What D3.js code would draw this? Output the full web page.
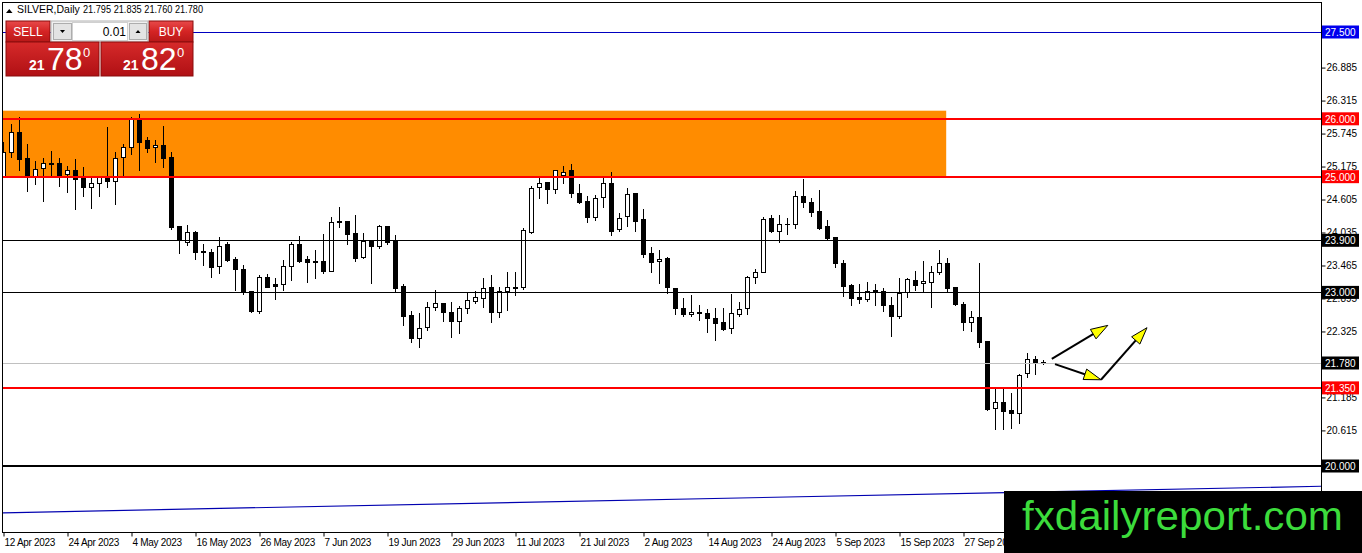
<!DOCTYPE html>
<html>
<head>
<meta charset="utf-8">
<script src="https://cdn.jsdelivr.net/npm/d3@7"></script>
<style>
  body { margin: 0; background: #fff; }
  svg { display: block; }
  text { font-family: Tahoma, "Liberation Sans", Arial, sans-serif; }
</style>
</head>
<body>
<svg id="chart"></svg>
<script>
// ---- data ----
const symbolName = "SILVER,Daily";
const lastQuote = [21.795, 21.835, 21.760, 21.780];

const opens = [24.99,25.43,25.77,25.32,24.99,25.15,25.24,25.24,25.05,25.12,24.98,24.82,24.89,24.99,24.93,25.34,25.51,26.00,25.63,25.51,
  25.55,25.34,24.15,23.87,24.04,23.71,23.70,23.46,23.84,23.58,23.40,23.02,22.68,23.27,23.15,23.15,23.46,23.84,23.58,23.54,
  23.54,23.37,24.23,24.23,24.03,23.61,23.89,23.80,24.15,23.89,23.11,22.61,22.21,22.40,22.75,22.82,22.66,22.51,22.73,22.85,
  22.90,23.09,22.66,23.03,23.09,23.09,24.04,24.82,24.91,24.79,25.03,25.12,24.72,24.58,24.30,24.65,24.89,24.10,24.32,24.72,
  24.27,23.68,23.54,23.59,23.08,22.73,22.63,22.66,22.64,22.56,22.49,22.39,22.63,22.73,23.27,23.35,24.29,24.06,24.18,24.18,
  24.67,24.56,24.41,24.15,23.96,23.51,23.13,22.92,22.89,23.04,23.03,22.78,22.59,23.01,23.21,23.16,23.18,23.35,23.51,23.09,
  22.80,22.49,22.58,22.16,21.00,21.11,20.97,20.92,21.61,21.85,21.795];
const highs = [25.60,25.91,26.03,25.57,25.27,25.32,25.44,25.32,25.19,25.31,25.17,25.01,25.01,25.86,25.43,25.57,26.03,26.08,25.69,25.63,
  25.88,25.43,24.15,24.17,24.06,23.84,23.75,23.96,23.87,23.61,23.47,23.03,23.30,23.32,23.25,23.56,23.87,23.98,23.63,23.73,
  24.01,24.30,24.48,24.23,24.34,24.03,23.89,24.17,24.15,23.99,23.15,22.68,22.64,22.84,23.04,22.82,22.84,22.77,23.01,23.03,
  23.25,23.30,23.09,23.35,23.35,24.11,24.84,24.98,24.91,25.12,25.19,25.22,24.87,24.67,24.68,24.98,25.08,24.37,24.80,24.72,
  24.44,23.79,23.73,23.61,23.08,22.90,22.96,22.78,22.71,22.73,22.73,22.97,22.84,23.28,23.41,24.30,24.34,24.34,24.29,24.75,
  24.96,24.63,24.77,24.25,23.96,23.56,23.15,23.15,23.18,23.15,23.08,22.92,23.25,23.25,23.37,23.54,23.46,23.73,23.60,23.09,
  22.84,22.68,23.51,22.16,21.35,21.37,21.26,21.59,21.95,21.90,21.835];
const lows = [24.99,25.34,25.12,24.75,24.87,24.58,25.01,24.84,24.74,24.44,24.67,24.46,24.67,24.82,24.53,25.03,25.39,25.12,25.43,25.25,
  25.17,24.10,23.68,23.82,23.58,23.47,23.27,23.34,23.54,23.04,22.97,22.66,22.64,23.09,22.89,23.04,23.22,23.53,23.18,23.25,
  23.34,23.37,24.13,23.84,23.54,23.60,23.16,23.77,23.84,23.01,22.44,22.14,22.06,22.35,22.70,22.51,22.23,22.30,22.64,22.82,
  22.75,22.49,22.58,22.70,22.96,23.06,24.03,24.63,24.55,24.72,24.89,24.65,24.55,24.22,24.25,24.48,23.99,24.06,24.15,24.06,
  23.61,23.35,23.16,22.99,22.63,22.59,22.59,22.52,22.32,22.18,22.35,22.30,22.59,22.63,23.16,23.35,24.04,23.87,24.01,24.11,
  24.48,24.32,24.10,23.92,23.44,22.94,22.78,22.82,22.85,22.78,22.68,22.25,22.56,22.92,23.04,23.01,22.75,23.32,23.01,22.78,
  22.35,22.33,22.06,20.97,20.64,20.64,20.66,20.74,21.54,21.59,21.760];
const closes = [25.43,25.77,25.31,24.99,25.13,25.24,25.22,25.03,25.12,24.96,24.82,24.89,25.01,24.93,25.32,25.51,26.00,25.60,25.50,25.55,
  25.32,24.13,23.91,24.04,23.70,23.69,23.44,23.80,23.56,23.41,23.01,22.68,23.27,23.09,23.11,23.46,23.84,23.54,23.53,23.53,
  23.37,24.22,24.22,24.01,23.60,23.89,23.80,24.15,23.87,23.08,22.59,22.21,22.39,22.75,22.82,22.66,22.51,22.73,22.87,22.92,
  23.08,22.66,23.03,23.09,23.08,24.08,24.80,24.89,24.79,25.12,25.08,24.72,24.56,24.30,24.63,24.89,24.06,24.29,24.70,24.23,
  23.66,23.53,23.58,23.09,22.73,22.63,22.66,22.64,22.56,22.47,22.37,22.64,22.71,23.27,23.35,24.27,24.06,24.18,24.19,24.67,
  24.56,24.39,24.11,23.94,23.51,23.11,22.90,22.89,23.03,23.01,22.78,22.59,22.99,23.23,23.13,23.20,23.35,23.51,23.08,22.80,
  22.49,22.58,22.14,20.99,21.11,20.95,20.92,21.57,21.85,21.795,21.780];

// date labels on the time axis (bar index -> label)
const xTickIndex = [0, 8, 16, 24, 32, 40, 48, 56, 64, 72, 80, 88, 96, 104, 112, 120];
const xTickLabels = ["12 Apr 2023", "24 Apr 2023", "4 May 2023", "16 May 2023", "26 May 2023", "7 Jun 2023",
  "19 Jun 2023", "29 Jun 2023", "11 Jul 2023", "21 Jul 2023", "2 Aug 2023", "14 Aug 2023",
  "24 Aug 2023", "5 Sep 2023", "15 Sep 2023", "27 Sep 2023"];

// price scale labels (those fully hidden under level boxes are left out)
const yTicks = [27.455, 26.885, 26.315, 25.745, 25.175, 24.605, 24.035, 23.465, 22.895, 22.325, 21.185, 20.615];

// horizontal levels
const levelPrices = [27.5, 26.0, 25.0, 23.9, 23.0, 21.78, 21.35, 20.0];
const levelKinds  = ["blue", "red", "red", "black", "black", "bid", "red", "thick"];

// supply zone (prices) and its last bar
const zoneTop = 26.14;
const zoneBottom = 25.0;
const zoneEndBar = 117.9;

// rising blue trendline: [bar, price]
const trendPoints = [[-0.4, 19.19], [164.75, 19.65]];

// yellow arrows: [bar, price]
const arrows = [
  [[131.1, 21.85], [138.1, 22.43]],
  [[131.5, 21.76], [137.25, 21.49], [143.0, 22.39]]
];

// ---- layout ----
const W = 1362, H = 553;
const plot = { left: 3, right: 1321, top: 3, bottom: 532 };

const svg = d3.select("#chart")
  .attr("width", W)
  .attr("height", H);

const xScale = d3.scaleLinear().domain([0, 130]).range([3, 1043]);
const yScale = d3.scaleLinear().domain([20, 27.5]).range([466, 32]);

const defs = svg.append("defs");
defs.append("clipPath").attr("id", "plotclip")
  .append("rect")
  .attr("x", plot.left).attr("y", plot.top)
  .attr("width", plot.right - plot.left).attr("height", plot.bottom - plot.top);

function gradient(id, stops) {
  const g = defs.append("linearGradient").attr("id", id)
    .attr("x1", 0).attr("y1", 0).attr("x2", 0).attr("y2", 1);
  stops.forEach(s => g.append("stop").attr("offset", s[0]).attr("stop-color", s[1]));
}
gradient("btnRed", [[0, "#e84a4a"], [0.5, "#d42424"], [1, "#b81818"]]);
gradient("priceRed", [[0, "#d62a2a"], [1, "#b01014"]]);

const g = svg.append("g").attr("clip-path", "url(#plotclip)");

// supply zone
g.append("rect")
  .attr("x", xScale(-5))
  .attr("y", yScale(zoneTop))
  .attr("width", xScale(zoneEndBar) - xScale(-5))
  .attr("height", yScale(zoneBottom) - yScale(zoneTop))
  .attr("fill", "#ff8c00");

// candles
const candles = opens.map((o, i) => ({ i: i, o: o, h: highs[i], l: lows[i], c: closes[i] }));

g.selectAll(".wick")
  .data(candles)
  .enter().append("line")
  .attr("class", "wick")
  .attr("x1", d => Math.round(xScale(d.i)) + 0.5)
  .attr("x2", d => Math.round(xScale(d.i)) + 0.5)
  .attr("y1", d => Math.round(yScale(d.h)))
  .attr("y2", d => Math.round(yScale(d.l)) + 1)
  .attr("stroke", "#000")
  .attr("stroke-width", 1);

candles.forEach(d => {
  const xc = Math.round(xScale(d.i));
  const top = Math.round(yScale(Math.max(d.o, d.c)));
  const bot = Math.round(yScale(Math.min(d.o, d.c)));
  if (bot - top < 1) {
    g.append("line")
      .attr("x1", xc - 2).attr("x2", xc + 3)
      .attr("y1", top + 0.5).attr("y2", top + 0.5)
      .attr("stroke", "#000");
  } else {
    g.append("rect")
      .attr("x", xc - 1.5)
      .attr("y", top + 0.5)
      .attr("width", 4)
      .attr("height", bot - top)
      .attr("fill", d.c >= d.o ? "#fff" : "#000")
      .attr("stroke", "#000")
      .attr("stroke-width", 1);
  }
});

// levels
const levelStyle = {
  blue:  { line: "#0000c0", width: 1, box: "#0000ee" },
  red:   { line: "#ff0000", width: 2, box: "#ff0000" },
  black: { line: "#000000", width: 1, box: "#000000" },
  bid:   { line: "#c0c0c0", width: 1, box: "#000000" },
  thick: { line: "#000000", width: 2, box: "#000000" }
};

levelPrices.forEach((p, i) => {
  const st = levelStyle[levelKinds[i]];
  const y = Math.round(yScale(p)) + (st.width === 1 ? 0.5 : 0);
  g.append("line")
    .attr("x1", plot.left).attr("x2", plot.right)
    .attr("y1", y).attr("y2", y)
    .attr("stroke", st.line)
    .attr("stroke-width", st.width);
});

// trendline
const line = d3.line().x(d => xScale(d[0])).y(d => yScale(d[1]));
g.append("path")
  .attr("d", line(trendPoints))
  .attr("fill", "none")
  .attr("stroke", "#0000b0")
  .attr("stroke-width", 1.2);

// arrows
arrows.forEach(pts => {
  const px = pts.map(p => [xScale(p[0]), yScale(p[1])]);
  for (let k = 1; k < px.length; k++) {
    const a = px[k - 1], b = px[k];
    const dx = b[0] - a[0], dy = b[1] - a[1];
    const len = Math.hypot(dx, dy);
    const ux = dx / len, uy = dy / len;
    const nx = -uy, ny = ux;
    const hl = 17, hw = 5.5;
    g.append("line")
      .attr("x1", a[0]).attr("y1", a[1])
      .attr("x2", b[0] - ux * 4).attr("y2", b[1] - uy * 4)
      .attr("stroke", "#000").attr("stroke-width", 2);
    const bx = b[0] - ux * hl, by = b[1] - uy * hl;
    g.append("path")
      .attr("d", "M" + b[0] + "," + b[1] +
        "L" + (bx + nx * hw) + "," + (by + ny * hw) +
        "L" + (bx - nx * hw) + "," + (by - ny * hw) + "Z")
      .attr("fill", "#ffff00")
      .attr("stroke", "#000")
      .attr("stroke-width", 1);
  }
});

// frame
svg.append("rect")
  .attr("x", plot.left - 0.5).attr("y", plot.top - 0.5)
  .attr("width", plot.right - plot.left + 1).attr("height", plot.bottom - plot.top + 1)
  .attr("fill", "none").attr("stroke", "#000");

// price axis
const yAxis = d3.axisRight(yScale)
  .tickValues(yTicks)
  .tickFormat(d3.format(".3f"))
  .tickSize(4);

const yg = svg.append("g")
  .attr("transform", "translate(" + (plot.right + 0.5) + ",0)")
  .call(yAxis);
yg.select(".domain").remove();
yg.selectAll("text")
  .attr("x", 5)
  .attr("fill", "#000")
  .style("font-size", "10px")
  .style("font-family", "Tahoma, 'Liberation Sans', sans-serif");

// level price boxes
levelPrices.forEach((p, i) => {
  const st = levelStyle[levelKinds[i]];
  const y = yScale(p);
  svg.append("rect")
    .attr("x", plot.right + 1).attr("y", y - 6.5)
    .attr("width", 37).attr("height", 13)
    .attr("fill", st.box);
  svg.append("text")
    .attr("x", plot.right + 4).attr("y", y + 4)
    .attr("fill", "#fff")
    .style("font-size", "10px")
    .text(d3.format(".3f")(p));
});

// time axis
const xAxis = d3.axisBottom(xScale)
  .tickValues(xTickIndex)
  .tickFormat((d, i) => xTickLabels[i])
  .tickSize(4);

const xg = svg.append("g")
  .attr("transform", "translate(0," + (plot.bottom + 0.5) + ")")
  .call(xAxis);
xg.select(".domain").remove();
xg.selectAll(".tick line").attr("transform", "translate(0.5,0)");
xg.selectAll("text")
  .attr("text-anchor", "start")
  .attr("x", 1)
  .attr("y", 6)
  .attr("fill", "#000")
  .style("font-size", "10px")
  .style("letter-spacing", "-0.3px")
  .style("font-family", "Tahoma, 'Liberation Sans', sans-serif");

// header
svg.append("path").attr("d", "M6,13L12.5,13L9.25,9Z").attr("fill", "#000");
svg.append("text").attr("x", 17).attr("y", 13).style("font-size", "10.5px").text(symbolName);
svg.append("text").attr("x", 83).attr("y", 13).style("font-size", "10.5px")
  .attr("textLength", 120).attr("lengthAdjust", "spacingAndGlyphs")
  .text(lastQuote.map(d3.format(".3f")).join(" "));

// one click trading panel
const panel = svg.append("g").style("font-family", "Arial, 'Liberation Sans', sans-serif");
panel.append("rect").attr("x", 6).attr("y", 21).attr("width", 44).attr("height", 21)
  .attr("fill", "url(#btnRed)").attr("stroke", "#8a0c0c");
panel.append("text").attr("x", 28).attr("y", 36).attr("text-anchor", "middle")
  .attr("fill", "#fff").style("font-size", "12px").text("SELL");
panel.append("rect").attr("x", 149).attr("y", 21).attr("width", 44).attr("height", 21)
  .attr("fill", "url(#btnRed)").attr("stroke", "#8a0c0c");
panel.append("text").attr("x", 171).attr("y", 36).attr("text-anchor", "middle")
  .attr("fill", "#fff").style("font-size", "12px").text("BUY");

panel.append("rect").attr("x", 51).attr("y", 21).attr("width", 97).attr("height", 21)
  .attr("fill", "#f0f0f0").attr("stroke", "#b4b4b4");
panel.append("rect").attr("x", 53.5).attr("y", 23.5).attr("width", 18).attr("height", 16)
  .attr("fill", "#e3e3e3").attr("stroke", "#adadad");
panel.append("path").attr("d", "M60,30L65,30L62.5,33Z").attr("fill", "#000");
panel.append("rect").attr("x", 72.5).attr("y", 22.5).attr("width", 55).attr("height", 18)
  .attr("fill", "#fff").attr("stroke", "#d0d0d0");
panel.append("text").attr("x", 126).attr("y", 36).attr("text-anchor", "end")
  .attr("fill", "#000").style("font-size", "12px").text("0.01");
panel.append("rect").attr("x", 129.5).attr("y", 23.5).attr("width", 17).attr("height", 16)
  .attr("fill", "#e3e3e3").attr("stroke", "#adadad");
panel.append("path").attr("d", "M135.5,33L140.5,33L138,30Z").attr("fill", "#000");

const bidParts = ["21", "78", "0"];
const askParts = ["21", "82", "0"];
[[6, 93, bidParts, 29, 47, 83], [101, 92, askParts, 123, 141, 177]].forEach(b => {
  panel.append("rect").attr("x", b[0]).attr("y", 42).attr("width", b[1]).attr("height", 34)
    .attr("fill", "url(#priceRed)").attr("stroke", "#8a0c0c");
  panel.append("text").attr("x", b[3]).attr("y", 70).attr("fill", "#fff")
    .style("font-size", "14px").style("font-weight", "bold").text(b[2][0]);
  panel.append("text").attr("x", b[4]).attr("y", 70).attr("fill", "#fff")
    .style("font-size", "32px").text(b[2][1]);
  panel.append("text").attr("x", b[5]).attr("y", 57).attr("fill", "#fff")
    .style("font-size", "13px").text(b[2][2]);
});

// watermark
svg.append("rect").attr("x", 1004).attr("y", 491).attr("width", W - 1004).attr("height", H - 491)
  .attr("fill", "#000");
svg.append("text").attr("x", 1022).attr("y", 530)
  .attr("fill", "#3cdc3c")
  .attr("textLength", 321).attr("lengthAdjust", "spacingAndGlyphs")
  .style("font-family", "Arial, 'Liberation Sans', sans-serif")
  .style("font-size", "40px")
  .text("fxdailyreport.com");
</script>
</body>
</html>
